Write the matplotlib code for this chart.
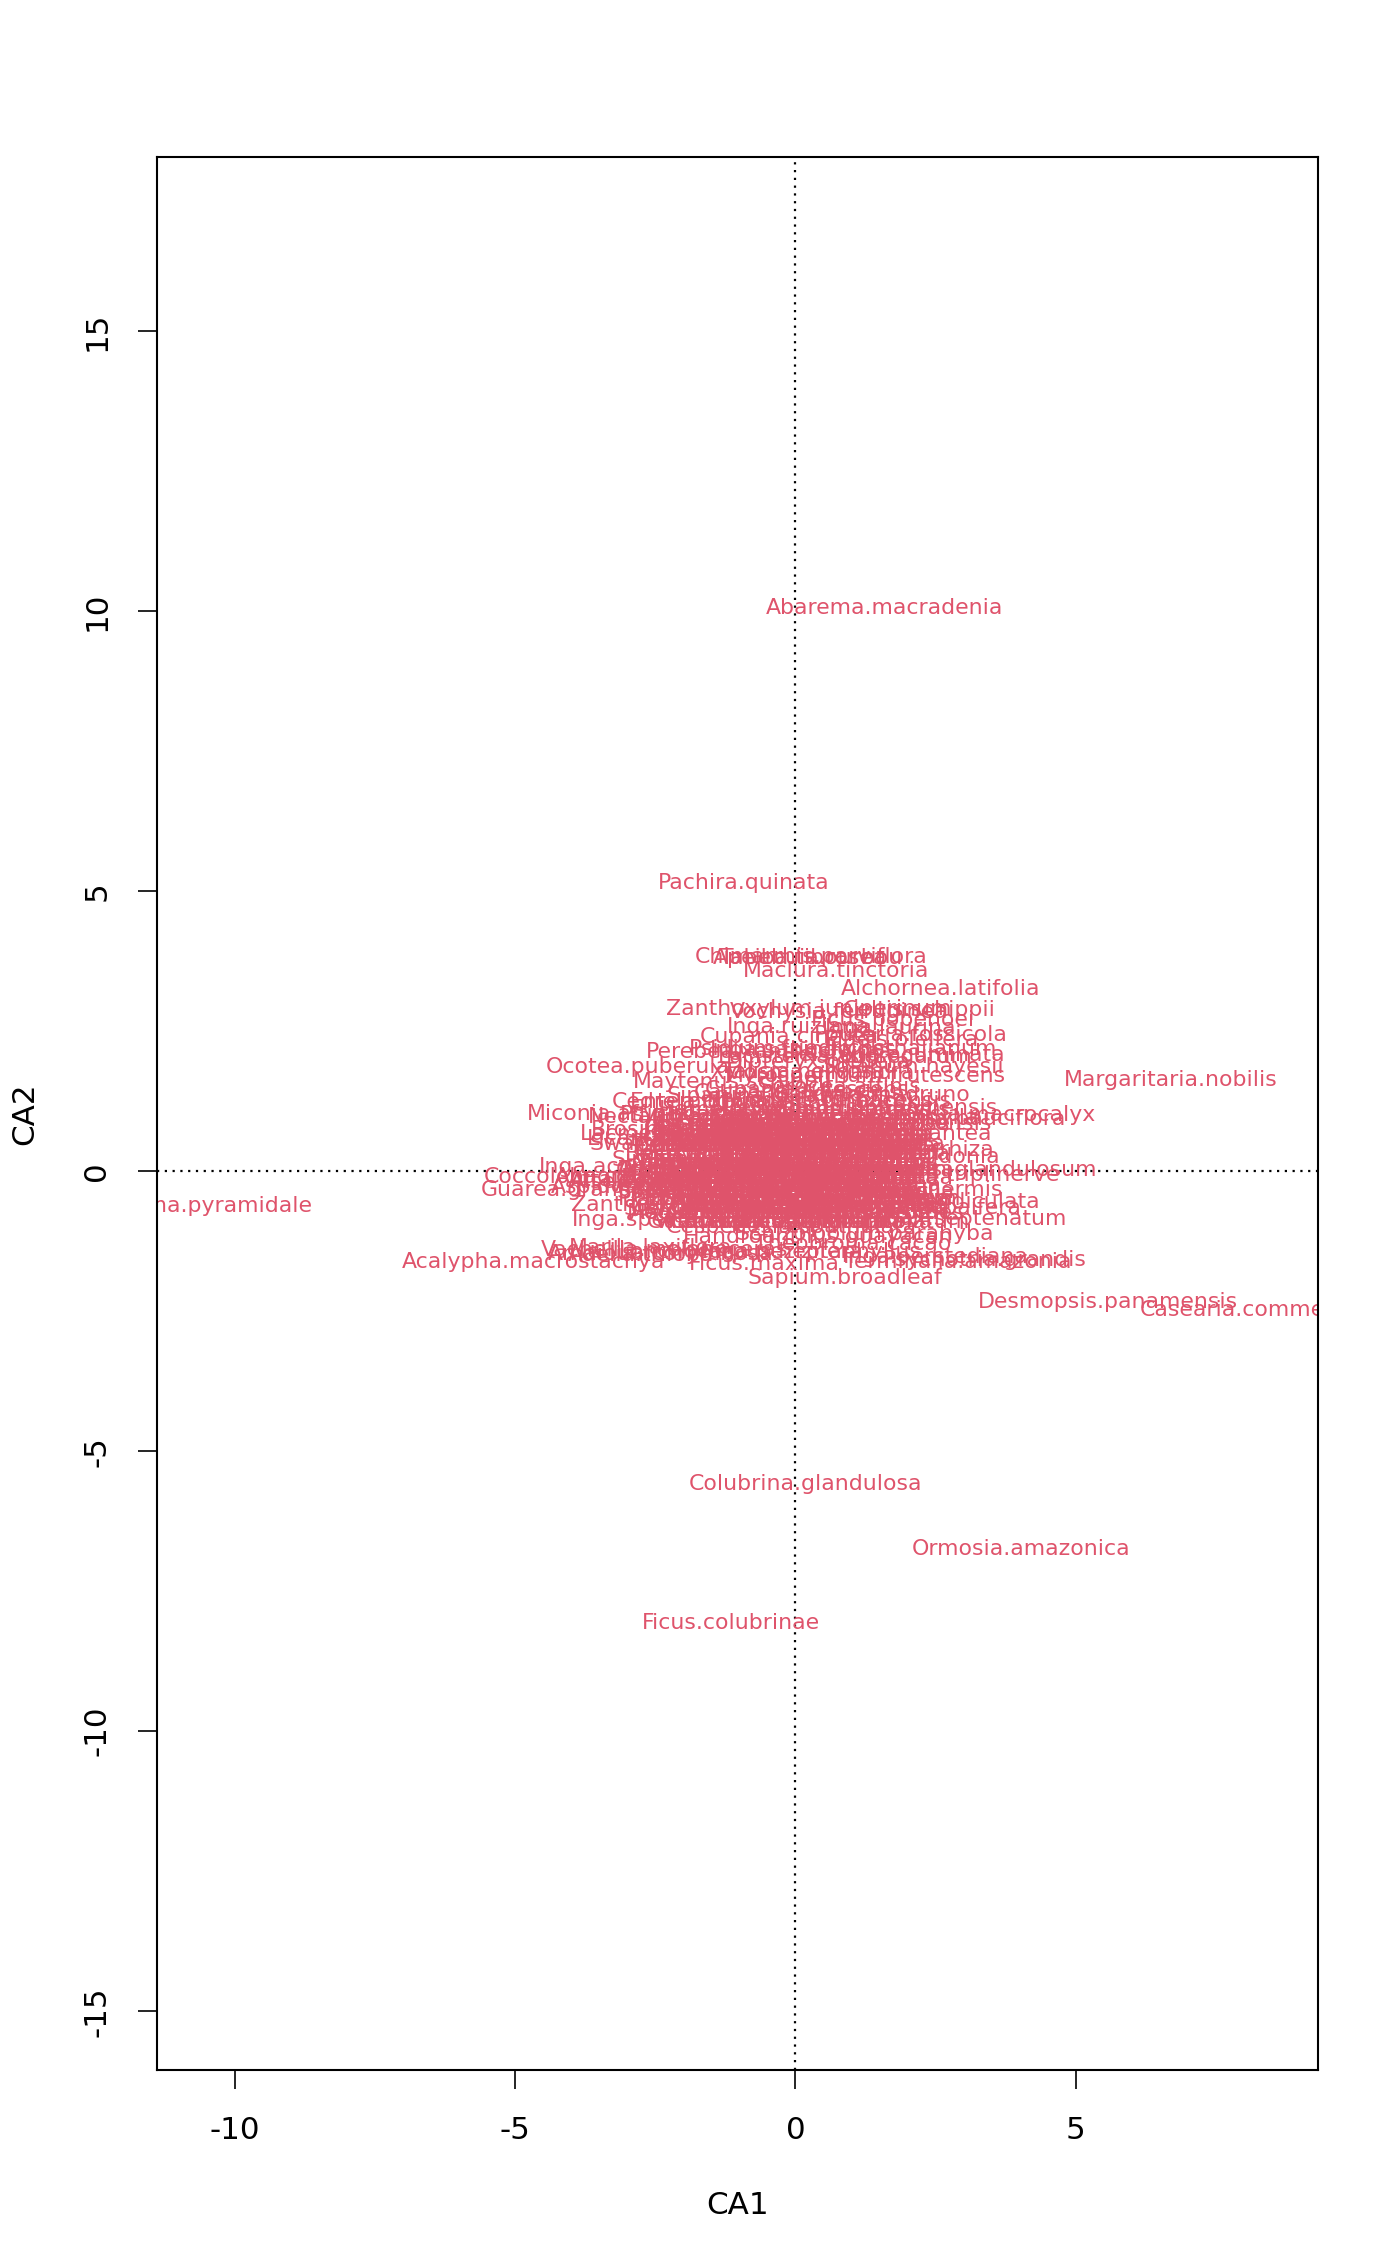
import matplotlib
matplotlib.use("Agg")
import matplotlib.pyplot as plt

plt.rcParams["font.family"] = ["DejaVu Sans"]
plt.rcParams["axes.unicode_minus"] = False

LABEL_COLOR = "#DF536B"

# species scores: outer / readable labels
species = [
    "Abarema.macradenia", "Pachira.quinata", "Chimarrhis.parviflora", "Tabebuia.rosea",
    "Apeiba.tibourbou", "Maclura.tinctoria", "Alchornea.latifolia", "Zanthoxylum.juniperinum",
    "Vochysia.ferruginea", "Celtis.schippii", "Ficus.popenoei", "Inga.ruiziana",
    "Inga.laurina", "Cupania.cinerea", "Pouteria.fossicola", "Elaeis.oleifera",
    "Perebea.xanthochyma", "Psidium.friedrichsthalianum", "Inga.sapindoides",
    "Heisteria.acuminata", "Lacistema.aggregatum", "Ocotea.puberula", "Solanum.hayesii",
    "Maytenus.schippii", "Myrospermum.frutescens", "Talisia.nervosa", "Cedrela.odorata",
    "Enterolobium.schomburgkii", "Casearia.sylvestris", "Garcinia.madruno",
    "Miconia.affinis", "Nectandra.cissiflora", "Tetragastris.panamensis",
    "Ormosia.macrocalyx", "Siparuna.pauciflora", "Trichanthera.gigantea",
    "Brosimum.alicastrum", "Licania.hypoleuca", "Swartzia.simplex.var.grandiflora",
    "Socratea.exorrhiza", "Guarea.guidonia", "Inga.acuminata", "Sapium.glandulosum",
    "Cinnamomum.triplinerve", "Coccoloba.coronata", "Guarea.grandifolia",
    "Alseis.blackiana", "Annona.spraguei", "Attalea.butyracea", "Aspidosperma.desmanthum",
    "Simarouba.amara", "Lacmellea.panamensis", "Andira.inermis", "Hampea.appendiculata",
    "Prioria.copaifera", "Pseudobombax.septenatum", "Schizolobium.parahyba",
    "Theobroma.cacao", "Psychotria.grandis", "Terminalia.amazonia", "Inga.oerstediana",
    "Inga.pezizifera", "Ficus.maxima", "Sapium.broadleaf", "Desmopsis.panamensis",
    "Casearia.commersoniana", "Margaritaria.nobilis", "Acalypha.macrostachya",
    "Ochroma.pyramidale", "Vachellia.melanoceras", "Marila.laxiflora",
    "Amaioua.corymbosa", "Adelia.triloba", "Lonchocarpus.heptaphyllus",
    "Handroanthus.guayacan", "Inga.spectabilis", "Cespedesia.spathulata",
    "Zanthoxylum.ekmanii", "Sterculia.apetala", "Colubrina.glandulosa",
    "Ormosia.amazonica", "Ficus.colubrinae",
    "Dipteryx.oleifera", "Xylosma.oligandra", "Sorocea.affinis", "Cupania.rufescens",
    "Siparuna.guianensis", "Stylogyne.turbacensis", "Hamelia.axillaris",
    "Mouriri.myrtilloides", "Pentagonia.macrophylla", "Carapa.guianensis",
    "Senna.dariensis", "Pittoniotis.trichantha", "Eugenia.coloradoensis",
    "Psychotria.horizontalis", "Alchornea.costaricensis",
]
ca1 = [
    1.58, -0.93, 0.28, 0.13,
    0.23, 0.72, 2.58, 0.23,
    0.78, 2.21, 1.74, 0.06,
    1.70, -0.11, 2.06, 1.90,
    -0.47, 0.84, 0.14,
    1.76, 0.88, -2.82, 2.11,
    -1.14, 1.25, 0.15, -1.69,
    -0.25, 0.04, 1.35,
    -3.37, -1.75, 1.20,
    3.34, 2.90, 1.33,
    -1.55, -1.95, -0.50,
    1.70, 2.03, -3.05, 3.31,
    2.27, -3.61, -3.78,
    -2.45, -2.63, -2.30, -1.60,
    -1.53, -1.60, 2.28, 2.08,
    2.43, 2.09, 1.24,
    1.02, 3.38, 2.90, 2.50,
    -0.22, -0.55, 0.89, 5.58,
    8.64, 6.70, -4.68,
    -10.68, -2.33, -2.58,
    -2.40, -2.75, -0.45,
    0.40, -2.45, -0.08,
    -1.86, -1.40, 0.18,
    4.03, -1.16,
    0.40, 0.30, 0.80, 0.20,
    -0.30, 0.60, -0.80,
    0.40, 0.90, -0.20,
    1.20, -0.50, 1.30,
    -0.90, 0.20,
]
ca2 = [
    10.05, 5.14, 3.82, 3.80,
    3.80, 3.57, 3.26, 2.89,
    2.84, 2.88, 2.70, 2.58,
    2.56, 2.40, 2.43, 2.34,
    2.13, 2.19, 2.16,
    2.07, 2.04, 1.86, 1.86,
    1.60, 1.70, 1.77, 1.24,
    1.24, 1.39, 1.36,
    1.02, 0.97, 1.12,
    1.00, 0.94, 0.67,
    0.73, 0.58, 0.48,
    0.38, 0.26, 0.08, 0.03,
    -0.07, -0.10, -0.34,
    -0.20, -0.10, -0.15, -0.28,
    0.20, 0.67, -0.34, -0.55,
    -0.66, -0.86, -1.12,
    -1.30, -1.58, -1.62, -1.53,
    -1.45, -1.65, -1.90, -2.33,
    -2.48, 1.63, -1.62,
    -0.63, -1.41, -1.38,
    -1.48, -1.50, -1.45,
    -1.17, -0.88, -0.99,
    -0.61, -0.68, -5.58,
    -6.74, -8.06,
    1.95, 1.75, 1.50, 1.45,
    1.35, 1.25, 1.10,
    1.10, 0.95, 1.00,
    1.10, 0.95, 0.85,
    1.00, 0.95,
]

# dense core near the origin
core_species = [
    "Cordia.alliodora", "Annona.acuminata", "Protium.panamense", "Ficus.insipida",
    "Trophis.racemosa", "Astronium.graveolens", "Chrysochlamys.eclipes",
    "Casearia.arborea", "Hirtella.triandra", "Inga.punctata", "Ocotea.whitei",
    "Quassia.amara", "Apeiba.glabra", "Licania.platypus", "Tachigali.versicolor",
    "Eugenia.florida", "Guapira.myrtiflora", "Sloanea.terniflora", "Trichilia.pallida",
    "Xylopia.macrantha", "Lafoensia.punicifolia", "Miconia.elata", "Spachea.membranacea",
    "Luehea.seemannii", "Pourouma.bicolor", "Cupania.latifolia", "Genipa.americana",
    "Virola.sebifera", "Spondias.mombin", "Guettarda.foliacea", "Quararibea.asterolepis",
    "Miconia.argentea",
    "Croton.billbergianus", "Faramea.occidentalis", "Hura.crepitans", "Poulsenia.armata",
    "Drypetes.standleyi", "Inga.marginata", "Trema.micrantha", "Coccoloba.manzinellensis",
    "Zanthoxylum.setulosum", "Hirtella.americana", "Cordia.lasiocalyx",
    "Beilschmiedia.tovarensis", "Calophyllum.longifolium", "Cordia.bicolor",
    "Gustavia.superba", "Laetia.thamnia", "Ocotea.cernua", "Tocoyena.pittieri",
    "Randia.armata", "Piper.reticulatum", "Pouteria.reticulata", "Terminalia.oblonga",
    "Alibertia.edulis", "Chrysophyllum.argenteum", "Eugenia.nesiotica", "Inga.goldmanii",
    "Pterocarpus.rohrii", "Trichilia.tuberculata", "Heisteria.concinna",
    "Virola.multiflora", "Tetrathylacium.johansenii", "Casearia.guianensis",
    "Ficus.yoponensis",
    "Allophylus.psilospermus", "Cassipourea.elliptica", "Hasseltia.floribunda",
    "Oenocarpus.mapora", "Protium.tenuifolium", "Ficus.tonduzii", "Talisia.princeps",
    "Zuelania.guidonia", "Ceiba.pentandra", "Nectandra.purpurea", "Myrcia.gatunensis",
    "Trattinnickia.aspera", "Virola.surinamensis",
    "Anacardium.excelsum", "Coussarea.curvigemma", "Ficus.obtusifolia",
    "Mosannona.garwoodii", "Tabernaemontana.arborea", "Nectandra.lineata",
    "Banara.guianensis", "Ocotea.oblonga", "Triplaris.cumingiana",
    "Astrocaryum.standleyanum", "Bertiera.guianensis", "Capparis.frondosa", "Guarea.fuzzy",
    "Picramnia.latifolia", "Trophis.caucana", "Eugenia.oerstediana", "Ficus.costaricana",
    "Inga.umbellifera", "Pachira.sessilis",
    "Acalypha.diversifolia", "Brosimum.guianense", "Cupania.seemannii",
    "Dendropanax.arboreus", "Inga.cocleensis", "Spondias.radlkoferi",
    "Miconia.hondurensis", "Lindackeria.laurina", "Guazuma.ulmifolia",
    "Chrysophyllum.cainito", "Erythroxylum.macrophyllum", "Macrocnemum.roseum",
    "Platypodium.elegans", "Turpinia.occidentalis", "Ormosia.coccinea", "Laetia.procera",
    "Protium.costaricense", "Zanthoxylum.panamense",
    "Casearia.aculeata", "Diospyros.artanthifolia", "Jacaranda.copaia",
    "Garcinia.intermedia", "Posoqueria.latifolia", "Symphonia.globulifera",
    "Pouteria.stipitata", "Erythrina.costaricensis",
    "Aegiphila.panamensis", "Eugenia.galalonensis", "Cecropia.insignis",
    "Hieronyma.alchorneoides", "Unonopsis.pittieri", "Maquira.guianensis", "Inga.nobilis",
    "Trichospermum.galeottii",
    "Cavanillesia.platanifolia", "Guatteria.dumetorum", "Platymiscium.pinnatum",
    "Vismia.baccifera", "Ficus.trigonata", "Cecropia.obtusifolia",
]
core_ca1 = [
    -0.6, 0.3, 0.8, -1.1,
    -0.1, -0.4, 0.5,
    -0.8, 0.0, 0.5, -0.3,
    1.0, -1.2, 0.3, -0.9,
    -1.0, 0.1, 0.7, -0.4,
    0.4, -0.7, 1.1, 0.0,
    -1.1, -0.5, 0.0, 0.5,
    0.9, -0.8, 0.3, -0.5,
    0.7,
    -0.9, -0.1, 0.4, 0.8,
    -0.4, 1.1, -1.3, -0.3,
    -0.2, -0.6, 0.6,
    -0.6, 0.2, 0.8,
    -1.0, -0.2, 0.5, -1.3,
    1.0, -0.1, 0.5, 0.9,
    -1.1, -0.3, 0.3, 0.8,
    -0.7, 0.1, 0.6,
    -1.3, -0.3, 0.6,
    -0.9,
    -0.8, 0.1, 0.6,
    -1.2, -0.3, 1.0, 0.4,
    -0.5, 1.2, 0.2, -0.5,
    -1.2, 0.7,
    -0.9, -0.1, 0.5,
    -0.4, 0.2, 0.8,
    -1.3, 0.8, -0.7,
    -0.5, 0.3, -1.1, 0.8,
    -0.2, 1.0, -0.8, 0.3,
    -0.1, -1.0,
    -0.9, 0.0, 0.5,
    -0.4, 0.9, -1.3,
    0.2, -0.3, 1.0,
    -0.7, 0.1, 0.7,
    -1.1, -0.2, 1.0, -1.0,
    0.3, -0.1,
    -0.5, 0.3, 0.8,
    -1.0, -0.1, 0.5,
    -0.3, -0.2,
    -0.8, 0.0, -0.3,
    0.5, 1.0, -1.1, 0.6,
    0.3,
    0.1, -0.5, 0.8,
    -0.9, 0.5, -0.3,
]
core_ca2 = [
    0.85, 0.85, 0.85, 0.85,
    0.85, 0.85, 0.85,
    0.75, 0.75, 0.75, 0.75,
    0.75, 0.75, 0.75, 0.75,
    0.65, 0.65, 0.65, 0.65,
    0.65, 0.65, 0.65, 0.65,
    0.55, 0.55, 0.55, 0.55,
    0.55, 0.55, 0.55, 0.55,
    0.55,
    0.45, 0.45, 0.45, 0.45,
    0.45, 0.45, 0.45, 0.45,
    0.45, 0.45, 0.45,
    0.30, 0.30, 0.30,
    0.30, 0.30, 0.30, 0.30,
    0.30, 0.30, 0.30, 0.30,
    0.15, 0.15, 0.15, 0.15,
    0.15, 0.15, 0.15,
    0.15, 0.15, 0.15,
    0.15,
    0.02, 0.02, 0.02,
    0.02, 0.02, 0.02, 0.02,
    0.02, 0.02, 0.02, 0.02,
    0.02, 0.02,
    -0.12, -0.12, -0.12,
    -0.12, -0.12, -0.12,
    -0.12, -0.12, -0.12,
    -0.25, -0.25, -0.25, -0.25,
    -0.25, -0.25, -0.25, -0.25,
    -0.25, -0.25,
    -0.38, -0.38, -0.38,
    -0.38, -0.38, -0.38,
    -0.38, -0.38, -0.38,
    -0.50, -0.50, -0.50,
    -0.50, -0.50, -0.50, -0.50,
    -0.50, -0.50,
    -0.62, -0.62, -0.62,
    -0.62, -0.62, -0.62,
    -0.62, -0.62,
    -0.75, -0.75, -0.75,
    -0.75, -0.75, -0.75, -0.75,
    -0.75,
    -0.90, -0.90, -0.90,
    -0.90, -0.90, -0.90,
]

xticks = [-10, -5, 0, 5]
yticks = [-15, -10, -5, 0, 5, 10, 15]

fig = plt.figure(figsize=(14, 22.66), dpi=100)
ax = fig.add_axes([0.1121, 0.0865, 0.8293, 0.8442])
ax.set_xlim(-11.39, 9.32)
ax.set_ylim(-16.05, 18.11)

ax.axhline(0, color="black", linestyle=(0, (1, 2.5)), linewidth=1.6, zorder=1)
ax.axvline(0, color="black", linestyle=(0, (1, 2.5)), linewidth=1.6, zorder=1)

for name, x, y in zip(core_species + species, core_ca1 + ca1, core_ca2 + ca2):
    ax.text(x, y, name, color=LABEL_COLOR, fontsize=15.8, ha="center", va="center",
            clip_on=True, zorder=2)

for side in ax.spines.values():
    side.set_linewidth(1.5)
    side.set_color("black")

ax.set_xticks(xticks)
ax.set_yticks(yticks)
ax.set_xticklabels([str(v) for v in xticks])
ax.set_yticklabels([str(v) for v in yticks])
ax.tick_params(direction="out", length=14, width=1.2, labelsize=22.3, pad=19,
               top=False, right=False)
plt.setp(ax.get_yticklabels(), rotation=90, va="center")

fig.text(0.5268, 0.0269, "CA1", fontsize=22.3, ha="center", va="center")
fig.text(0.0176, 0.5086, "CA2", fontsize=22.3, ha="center", va="center", rotation=90)

fig.savefig("out.png", dpi=100)
